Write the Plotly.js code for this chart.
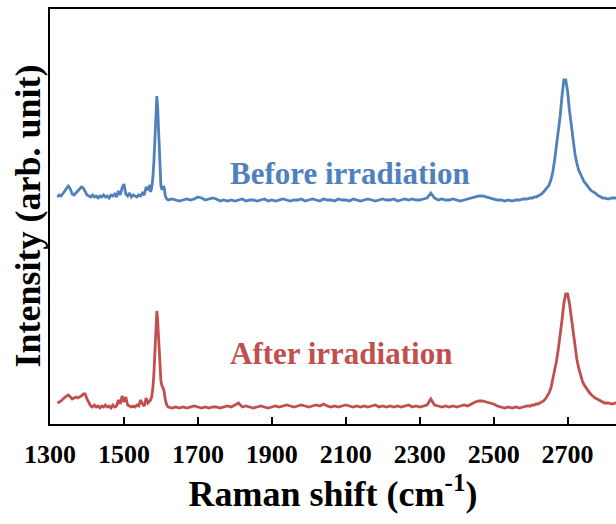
<!DOCTYPE html>
<html>
<head>
<meta charset="utf-8">
<script src="https://cdn.plot.ly/plotly-3.0.1.min.js"></script>
<style>html,body{margin:0;padding:0;background:#fff;overflow:hidden}</style>
</head>
<body>
<div id="chart" style="width:616px;height:524px"></div>
<script>
// Raman shift (cm-1)
const ramanShift = [
1320,1325,1330,1335,1340,1345,1350,1355,1360,1365,1370,1375,1380,1385,1390,1395,1400,1405,1410,1415,
1420,1425,1430,1435,1440,1445,1450,1455,1460,1465,1470,1475,1480,1485,1490,1495,1500,1505,1510,1515,
1520,1525,1530,1535,1540,1545,1550,1555,1560,1565,1570,
1572,1575,1578,1581,1584,1587,1589,1591,1594,1597,1600,1603,1606,1609,1612,1616,1620,
1630,1640,1650,1660,1670,1680,1690,1700,1710,1720,1730,1740,1750,1760,1770,1780,1790,1800,1810,1820,
1830,1840,1850,1860,1870,1880,1890,1900,1910,1920,1930,1940,1950,1960,1970,1980,1990,2000,2010,2020,
2030,2040,2050,2060,2070,2080,2090,2100,2110,2120,2130,2140,2150,2160,2170,2180,2190,2200,2210,2220,
2230,2240,2250,2260,2270,2280,2290,2300,2310,2320,2330,2340,2350,2360,2370,2380,2390,2400,2410,2420,
2430,2440,2450,2460,2470,2480,2490,2500,2510,2520,2530,2540,2550,2560,2570,2580,2590,2600,
2605,2610,2615,2620,2625,2630,2635,2640,2645,2650,2655,2660,2665,2670,2675,2680,2685,2690,2695,2700,
2705,2710,2715,2720,2725,2730,2735,2740,2745,2750,2755,2760,2765,2770,2775,2780,2785,2790,2795,2800,
2810,2820,2830,2840
];

// Before irradiation (offset arb. units)
const beforeIntensity = [
227,229,228,230,233,236,238,235,230,229,231,233,235,237,236,233,229,228,227,229,
227,228,226,228,227,229,227,228,226,229,228,230,227,233,229,236,240,230,228,231,
227,229,228,227,229,228,231,229,237,234,239,
232,236,245,262,290,320,328,318,285,252,238,234,238,236,228,225,224,
225,224,223,224,225,224,225,227,226,224,225,226,225,223,224,223,224,223,224,225,
223,224,224,223,224,225,223,224,223,224,225,224,223,224,224,225,223,224,225,224,
223,225,224,224,223,225,224,224,223,225,224,223,224,225,224,223,224,225,224,224,
225,223,224,225,224,225,224,224,225,226,231,226,224,225,224,224,225,224,223,224,
225,226,227,228,228,227,226,225,224,224,223,224,223,224,224,225,225,226,
226,227,227,228,229,230,232,234,236,239,244,252,264,277,291,308,328,344,344,333,
314,297,282,270,261,254,250,246,242,240,237,235,233,232,231,229,228,227,226,226,
225,226,226,225
];

// After irradiation (offset arb. units)
const afterIntensity = [
21,22,23,25,27,28,29,27,25,26,27,26,27,28,30,30,25,21,18,17,
19,17,18,16,18,17,19,17,18,16,19,17,18,24,20,28,22,27,19,18,
17,18,17,19,18,24,20,18,26,21,23,
24,27,35,50,75,104,113,105,80,56,43,38,36,32,24,19,17,
16,17,16,17,16,17,18,17,16,17,16,17,17,16,17,18,17,19,21,17,
18,17,16,17,18,17,16,17,18,17,18,19,18,17,18,19,18,17,18,19,
18,20,18,17,18,17,18,19,18,17,18,17,18,17,18,19,17,18,17,18,
17,18,17,18,19,17,18,17,18,19,25,19,18,17,18,17,18,17,18,19,
18,20,22,23,23,22,21,20,18,17,16,17,16,17,16,17,18,18,
19,19,20,20,21,22,23,25,28,31,36,44,52,63,75,88,104,121,130,130,
121,107,91,77,65,56,49,43,39,36,33,31,29,27,26,25,24,23,22,21,
21,20,21,21
];

const tickValues = [1300,1500,1700,1900,2100,2300,2500,2700];
const seriesLabels = ['Before irradiation','After irradiation'];
const yTitle = 'Intensity (arb. unit)';

const serif = 'Liberation Serif, Times New Roman, serif';
const blue = '#4F81BD';
const red = '#C0504D';

const traces = [
  {x: ramanShift, y: beforeIntensity, name: seriesLabels[0], type: 'scatter', mode: 'lines',
   line: {color: blue, width: 2.8}},
  {x: ramanShift, y: afterIntensity, name: seriesLabels[1], type: 'scatter', mode: 'lines',
   line: {color: red, width: 2.8}}
];

const layout = {
  width: 616, height: 524,
  margin: {l: 50, r: 0, t: 9, b: 100},
  paper_bgcolor: '#fff', plot_bgcolor: '#fff',
  showlegend: false,
  font: {family: serif, color: '#000'},
  xaxis: {
    range: [1300, 2831],
    tickvals: tickValues,
    ticktext: tickValues.map(String),
    ticks: 'inside', ticklen: 7, tickwidth: 2, tickcolor: '#000',
    showline: true, linecolor: '#000', linewidth: 2, mirror: true,
    showgrid: false, zeroline: false,
    tickfont: {family: serif, size: 26, weight: 'bold', color: '#000'},
    ticklabelstandoff: 6,
    title: {text: 'Raman shift (cm<sup>-1</sup>)', font: {family: serif, size: 36, weight: 'bold', color: '#000'}, standoff: 8}
  },
  yaxis: {
    range: [0, 415],
    showticklabels: false, ticks: '',
    showline: true, linecolor: '#000', linewidth: 2, mirror: false,
    showgrid: false, zeroline: false
  },
  annotations: [
    {x: 0, y: 0.5, xref: 'paper', yref: 'paper', xanchor: 'center', yanchor: 'middle', xshift: -23,
     textangle: -90, showarrow: false, text: yTitle,
     font: {family: serif, size: 36, weight: 'bold', color: '#000'}},
    {x: 1782, y: 251, xref: 'x', yref: 'y', xanchor: 'left', yanchor: 'middle', showarrow: false,
     text: seriesLabels[0], font: {family: serif, size: 31, weight: 'bold', color: blue}},
    {x: 1782, y: 71, xref: 'x', yref: 'y', xanchor: 'left', yanchor: 'middle', showarrow: false,
     text: seriesLabels[1], font: {family: serif, size: 31, weight: 'bold', color: red}}
  ]
};

Plotly.newPlot('chart', traces, layout, {displayModeBar: false, staticPlot: true});
</script>
</body>
</html>
